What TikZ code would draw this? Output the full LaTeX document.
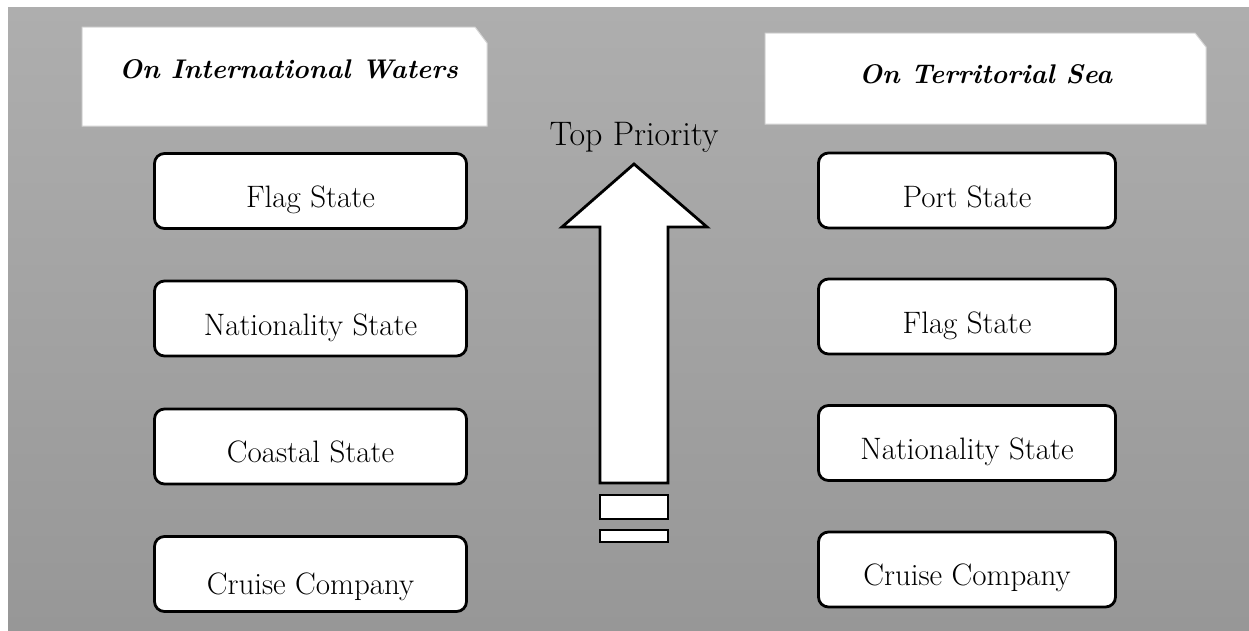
\documentclass[tikz,border=0pt]{standalone}
\usetikzlibrary{calc}
\definecolor{bgtop}{RGB}{174,174,174}
\definecolor{bgbot}{RGB}{151,151,151}
\definecolor{hdredge}{RGB}{212,212,212}
\tikzset{
  every node/.style={inner sep=0pt, outer sep=0pt},
  hdr/.style={rectangle},
  hdrfill/.style={fill=white, draw=hdredge, line width=1pt},
  hdrtxt/.style={anchor=base, font=\fontsize{27}{32}\selectfont\bfseries\itshape},
  lvl/.style={rectangle, rounded corners=10pt, draw=black, fill=white,
    line width=2.8pt, minimum height=75pt},
  lvltxt/.style={anchor=base, font=\fontsize{31}{36}\selectfont},
  arrowpart/.style={draw=black, fill=white, line width=2.8pt, line join=miter},
}
\newcommand{\snipbox}[3]{% node, dx, dy
  \path[hdrfill] (#1.south west) -- (#1.north west) -- ($(#1.north east)+(-#2,0)$)
    -- ($(#1.north east)+(0,#3)$) -- (#1.south east) -- cycle;}
\begin{document}
\begin{tikzpicture}[x=1pt,y=-1pt]
\useasboundingbox (0,0) rectangle (1249,630);
\fill[white] (0,0) rectangle (1249,630);
\shade[top color=bgtop, bottom color=bgbot] (8,7) rectangle (1249,630);

% headers
\node[hdr, minimum width=405pt, minimum height=99pt] (hL) at (284.5,76.5) {};
\snipbox{hL}{12}{16}
\node[hdrtxt] (hLt) at (288.5,78) {On International Waters};
\node[hdr, minimum width=441pt, minimum height=91pt] (hR) at (985.5,78.5) {};
\snipbox{hR}{11}{14}
\node[hdrtxt] (hRt) at (985.5,83) {On Territorial Sea};

% left column
\node[lvl, minimum width=312pt] (L1) at (310.5,191) {};
\node[lvl, minimum width=312pt] (L2) at (310.5,318.5) {};
\node[lvl, minimum width=312pt] (L3) at (310.5,446.5) {};
\node[lvl, minimum width=312pt] (L4) at (310.5,574) {};
\node[lvltxt] (L1t) at ($(L1.center)+(0,16)$) {Flag State};
\node[lvltxt] (L2t) at ($(L2.center)+(0,16.5)$) {Nationality State};
\node[lvltxt] (L3t) at ($(L3.center)+(0,15.5)$) {Coastal State};
\node[lvltxt] (L4t) at ($(L4.center)+(0,20)$) {Cruise Company};

% right column
\node[lvl, minimum width=297pt] (R1) at (967,190.5) {};
\node[lvl, minimum width=297pt] (R2) at (967,316.5) {};
\node[lvl, minimum width=297pt] (R3) at (967,443) {};
\node[lvl, minimum width=297pt] (R4) at (967,569.5) {};
\node[lvltxt] (R1t) at ($(R1.center)+(0,16.5)$) {Port State};
\node[lvltxt] (R2t) at ($(R2.center)+(0,16.5)$) {Flag State};
\node[lvltxt] (R3t) at ($(R3.center)+(0,16)$) {Nationality State};
\node[lvltxt] (R4t) at ($(R4.center)+(0,15.5)$) {Cruise Company};

% priority arrow
\node[anchor=base, font=\fontsize{34}{40}\selectfont] (top) at (634,145) {Top Priority};
\draw[arrowpart] (634,164) -- (562,227) -- (600,227) -- (600,483) -- (668,483)
  -- (668,227) -- (707,227) -- cycle;
\draw[arrowpart] (600,495) rectangle (668,519);
\draw[arrowpart] (600,530) rectangle (668,542);
\end{tikzpicture}
\end{document}
